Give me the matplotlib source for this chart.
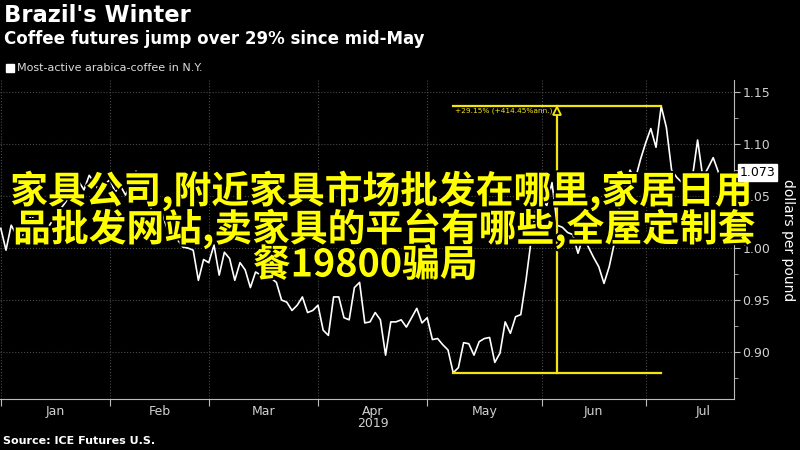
import matplotlib
matplotlib.use('Agg')
import matplotlib.pyplot as plt
import matplotlib.patheffects as pe
from matplotlib.patches import Rectangle
import numpy as np
import pandas as pd

# trading days, ICE US closed on these
holidays = ['2019-01-21', '2019-02-18', '2019-04-19', '2019-05-27', '2019-07-04']
dates = pd.bdate_range('2019-01-02', '2019-07-22')
dates = dates[~dates.isin(pd.to_datetime(holidays))]

# arabica coffee, dollars per pound
jan = [1.019, 0.998, 1.022, 1.013, 1.008, 1.025, 1.032, 1.015, 1.008, 1.019, 1.027,
       1.035, 1.041, 1.048, 1.054, 1.064, 1.056, 1.070, 1.063, 1.054, 1.061]
feb = [1.066, 1.054, 1.060, 1.051, 1.061, 1.074, 1.056, 1.046, 1.037, 1.027, 1.033,
       1.019, 1.022, 1.008, 1.001, 1.000, 0.998, 0.969, 0.989]
mar = [0.986, 1.003, 0.974, 0.996, 0.990, 0.969, 0.986, 0.979, 0.962, 0.977, 0.974,
       0.973, 0.971, 0.967, 0.950, 0.948, 0.940, 0.945, 0.953, 0.938, 0.940]
apr = [0.945, 0.921, 0.916, 0.953, 0.953, 0.933, 0.931, 0.962, 0.967, 0.928, 0.929,
       0.938, 0.931, 0.897, 0.929, 0.929, 0.931, 0.924, 0.933, 0.942, 0.928]
may = [0.933, 0.912, 0.913, 0.907, 0.902, 0.880, 0.885, 0.909, 0.908, 0.897, 0.910,
       0.913, 0.914, 0.890, 0.899, 0.929, 0.918, 0.934, 0.936, 0.969, 1.008, 1.040]
jun = [1.046, 1.041, 1.063, 1.022, 1.020, 1.015, 1.013, 0.995, 1.011, 1.001, 0.991,
       0.982, 0.966, 0.982, 1.005, 1.040, 1.056, 1.075, 1.066, 1.085]
jul = [1.101, 1.115, 1.097, 1.1365, 1.116, 1.075, 1.068, 1.063, 1.070, 1.068, 1.104,
       1.068, 1.077, 1.087, 1.073]
prices = jan + feb + mar + apr + may + jun + jul

month_names = ['Jan', 'Feb', 'Mar', 'Apr', 'May', 'Jun', 'Jul']
y_ticks = [0.90, 0.95, 1.00, 1.05, 1.10, 1.15]
y_minor = [0.875, 0.925, 0.975, 1.025, 1.075, 1.125]
change_label = '+29.15% (+414.45%ann.)'
overlay = ['家具公司,附近家具市场批发在哪里,家居日用',
           '品批发网站,卖家具的平台有哪些,全屋定制套',
           '餐19800骗局']

yellow = '#f5e50f'
grey = '#d0d0d0'

fig = plt.figure(figsize=(8, 4.5), dpi=100, facecolor='black')
ax = fig.add_axes([0.0, 0.1133, 0.9175, 0.7089])
ax.set_facecolor('black')

x = np.arange(len(prices))
ax.plot(x, prices, color='white', lw=1.2, zorder=3)

# low-to-high measurement
lo = int(np.argmin(prices))
hi = int(np.argmax(prices))
mid = (lo + hi) / 2
ax.plot([lo, hi], [prices[lo], prices[lo]], color=yellow, lw=1.6, zorder=4)
ax.plot([lo, hi], [prices[hi], prices[hi]], color=yellow, lw=1.6, zorder=4)
ax.plot([mid, mid], [prices[lo], prices[hi]], color=yellow, lw=1.6, zorder=4)
ax.plot(mid, prices[hi] - 0.0045, marker='^', ms=6, mfc='black', mec=yellow, mew=1.3, zorder=5)
ax.text(lo + 0.4, prices[hi] - 0.0015, change_label, color=yellow, fontsize=5.3,
        ha='left', va='top', zorder=5)

# month boundaries and centred month names
starts = [0] + [i for i in range(1, len(dates)) if dates[i].month != dates[i - 1].month]
centers = [(starts[k] + starts[k + 1]) / 2 for k in range(len(starts) - 1)] + [starts[-1] + 11]
ax.set_xticks(starts)
ax.set_xticklabels([])
ax.set_xticks(centers, month_names, minor=True)
ax.tick_params(axis='x', which='major', length=5, color='#bbbbbb')
ax.tick_params(axis='x', which='minor', length=0, pad=4, labelcolor=grey, labelsize=9)
ax.text(centers[3], -0.078, '2019', transform=ax.get_xaxis_transform(),
        ha='center', va='center', color=grey, fontsize=9)

ax.yaxis.tick_right()
ax.set_yticks(y_ticks, ['%.2f' % v for v in y_ticks])
ax.set_yticks(y_minor, minor=True)
ax.tick_params(axis='y', which='major', length=4, pad=2, color='#bbbbbb',
               labelcolor=grey, labelsize=9)
ax.tick_params(axis='y', which='minor', length=3, color='#bbbbbb')

ax.set_xlim(-0.15, 141.0)
ax.set_ylim(0.8548, 1.1617)
ax.grid(which='major', color='#4a4a4a', ls=':', lw=0.8)
for s in ['left', 'top']:
    ax.spines[s].set_visible(False)
for s in ['right', 'bottom']:
    ax.spines[s].set_color('#bbbbbb')

# overlaid banner text (drawn inside the axes so the price tag can sit on top)
stroke = [pe.withStroke(linewidth=3, foreground='black')]
for line, xc, yc in zip(overlay, [381, 384, 365], [191, 229, 265]):
    ax.text(xc / 800, 1 - yc / 450, line, transform=fig.transFigure, clip_on=False,
            color='#ffff00', fontsize=27.2, weight='bold',
            family=['Noto Sans CJK SC', 'DejaVu Sans'], ha='center', va='center',
            path_effects=stroke, zorder=10)

ax.annotate('%.3f' % prices[-1], xy=(1, prices[-1]), xycoords=('axes fraction', 'data'),
            xytext=(4, 0), textcoords='offset points', ha='left', va='center',
            fontsize=9, color='black', annotation_clip=False, zorder=12,
            bbox=dict(boxstyle='square,pad=0.15', fc='white', ec='white'))

fig.text(0.985, 1 - 240 / 450, 'dollars per pound', rotation=270, ha='center',
         va='center', color='white', fontsize=10)

# header and footer
fig.text(0.005, 1 - 4 / 450, "Brazil's Winter", color='white', fontsize=16.3,
         weight='bold', va='top')
fig.text(0.005, 1 - 30 / 450, 'Coffee futures jump over 29% since mid-May',
         color='white', fontsize=12, weight='bold', va='top')
fig.patches.append(Rectangle((6 / 800, 1 - 72 / 450), 8 / 800, 8 / 450,
                             transform=fig.transFigure, color='white'))
fig.text(17 / 800, 1 - 68 / 450, 'Most-active arabica-coffee in N.Y.', color='#dddddd',
         fontsize=8, va='center')
fig.text(0.004, 1 - 441 / 450, 'Source: ICE Futures U.S.', color='white', fontsize=8,
         weight='bold', va='center')

fig.savefig('out.png', dpi=100, facecolor='black')
